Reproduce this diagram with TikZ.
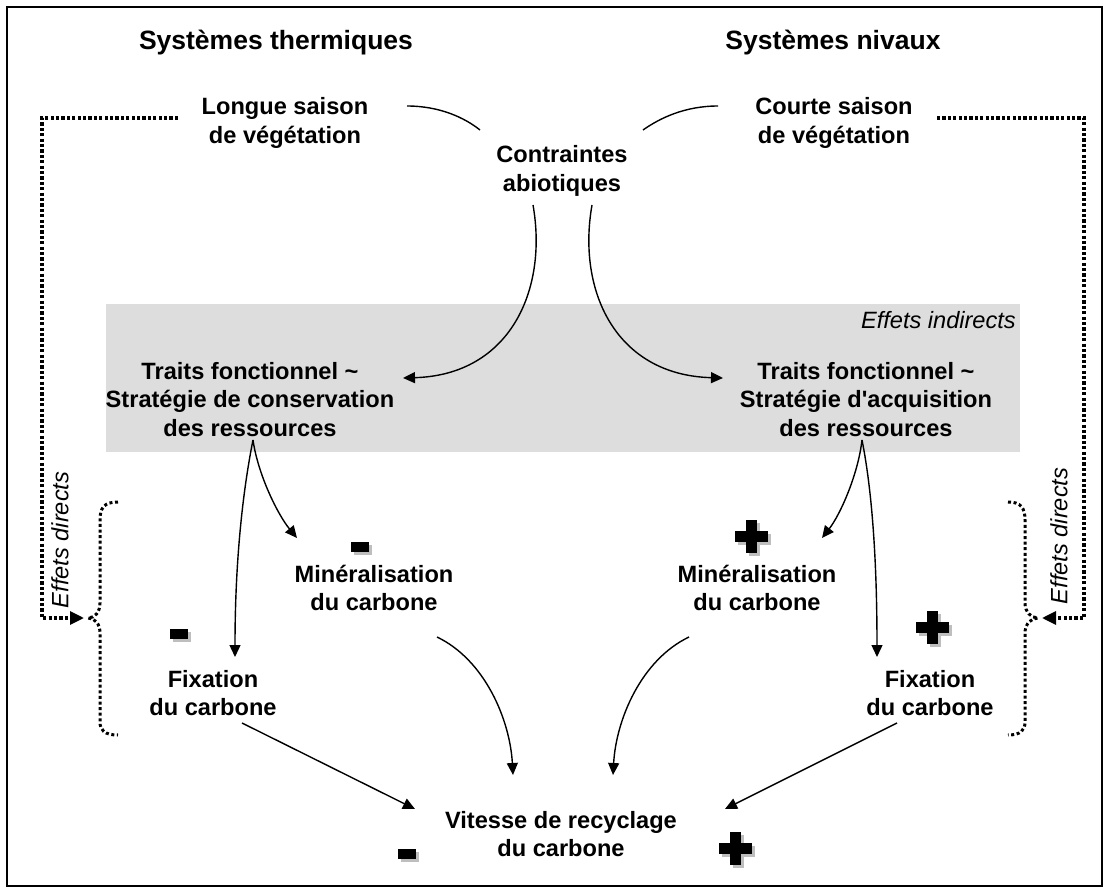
\documentclass[tikz,border=0pt]{standalone}
\usepackage{fontspec}
\setmainfont{Liberation Sans}[Ligatures=TeXOff]
\usetikzlibrary{arrows.meta}
\definecolor{boxgray}{RGB}{221,221,221}
\definecolor{shadowgray}{RGB}{190,190,190}
\begin{document}
\begin{tikzpicture}[x=1pt,y=-1pt,
  lbl/.style={font=\bfseries\fontsize{23.6}{28.5}\selectfont,align=center,inner sep=0pt},
  ttl/.style={font=\bfseries\fontsize{26.5}{32}\selectfont,inner sep=0pt,anchor=base},
  ital/.style={font=\itshape\fontsize{23.6}{28}\selectfont,inner sep=0pt},
  link/.style={line width=1.4pt},
  arr/.style={link,-{Triangle[length=12pt,width=11pt]}},
  dotline/.style={line width=3.2pt,dash pattern=on 3.2pt off 2.2pt,-{Triangle[length=14pt,width=13pt]}},
  dotbrace/.style={line width=3pt,dash pattern=on 3pt off 2.6pt},
  plussign/.pic={
    \fill[shadowgray] (-2.5,-13.5) rectangle (8.5,19.5);
    \fill[shadowgray] (-13.5,-2.5) rectangle (19.5,8.5);
    \fill[black] (-5.5,-16.5) rectangle (5.5,16.5);
    \fill[black] (-16.5,-5.5) rectangle (16.5,5.5);
  },
  minussign/.pic={
    \fill[shadowgray] (-6.5,-2.5) rectangle (11.5,7.5);
    \fill[black] (-9,-5) rectangle (9,5);
  }]
\useasboundingbox (0,0) rectangle (1109,893);
\fill[white] (0,0) rectangle (1109,893);
\fill[boxgray] (106,304) rectangle (1020,452);
\draw[line width=2pt] (7,7) rectangle (1102,886);

% titles and labels
\node[ttl] (tL) at (276,50) {Systèmes thermiques};
\node[ttl] (tR) at (833,50) {Systèmes nivaux};
\node[lbl] (longue) at (285,123) {Longue saison\\de végétation};
\node[lbl] (courte) at (834,123) {Courte saison\\de végétation};
\node[lbl] (contr) at (562,171) {Contraintes\\abiotiques};
\node[lbl] (trL) at (250,399.5) {Traits fonctionnel \textasciitilde\\Stratégie de conservation\\des ressources};
\node[lbl] (trR) at (866,399.5) {Traits fonctionnel \textasciitilde\\Stratégie d'acquisition\\des ressources};
\node[ital,anchor=base east] (indir) at (1016,329) {Effets indirects};
\node[lbl] (minL) at (374,588) {Minéralisation\\du carbone};
\node[lbl] (minR) at (757,588) {Minéralisation\\du carbone};
\node[lbl] (fixL) at (213,693) {Fixation\\du carbone};
\node[lbl] (fixR) at (930,693) {Fixation\\du carbone};
\node[lbl] (vit) at (561,834) {Vitesse de recyclage\\du carbone};
\node[ital,rotate=90] (dirL) at (60,540) {Effets directs};
\node[ital,rotate=90] (dirR) at (1059,536) {Effets directs};

% signs
\pic at (360,547) {minussign};
\pic at (179,634) {minussign};
\pic at (407,854) {minussign};
\pic at (751,536) {plussign};
\pic at (932,627) {plussign};
\pic at (735,848) {plussign};

% connectors
\draw[link] ([shift={(122,-17)}]longue.center) .. controls +(33,0) and +(-15,-12) .. ([shift={(-82,-41)}]contr.center);
\draw[link] ([shift={(-116,-17)}]courte.center) .. controls +(-33,0) and +(17,-12) .. ([shift={(81,-41)}]contr.center);
\draw[arr] ([shift={(-29,34)}]contr.center) .. controls +(15,85) and +(107,-3) .. ([shift={(153,-21.5)}]trL.center);
\draw[arr] ([shift={(30,34)}]contr.center) .. controls +(-15,85) and +(-108,-3) .. ([shift={(-143,-21.5)}]trR.center);
\draw[arr] ([shift={(3,40.5)}]trL.center) .. controls +(-10,50) and +(0,-97) .. ([shift={(22,-36)}]fixL.center);
\draw[arr] ([shift={(3,40.5)}]trL.center) .. controls +(5,35) and +(-19,-23) .. ([shift={(-77,-50)}]minL.center);
\draw[arr] ([shift={(-4,40.5)}]trR.center) .. controls +(10,50) and +(0,-97) .. ([shift={(-53,-36)}]fixR.center);
\draw[arr] ([shift={(-4,40.5)}]trR.center) .. controls +(-4,35) and +(18,-23) .. ([shift={(65,-50)}]minR.center);
\draw[arr] ([shift={(63,49)}]minL.center) .. controls +(48,23) and +(-3,-55) .. ([shift={(-48,-59)}]vit.center);
\draw[arr] ([shift={(-68,49)}]minR.center) .. controls +(-48,23) and +(3,-55) .. ([shift={(52,-59)}]vit.center);
\draw[arr] ([shift={(29,30)}]fixL.center) -- ([shift={(-146,-25)}]vit.center);
\draw[arr] ([shift={(-33,30)}]fixR.center) -- ([shift={(164,-25)}]vit.center);

% dotted direct-effect paths and braces
\coordinate (cornerL) at (42,618);
\coordinate (braceL) at (88,618);
\coordinate (cornerR) at (1084,618);
\coordinate (braceR) at (1038,618);
\draw[dotline] ([shift={(-107,-5)}]longue.center) -| (cornerL) -- ([xshift=-4pt]braceL);
\draw[dotline] ([shift={(103,-5)}]courte.center) -| (cornerR) -- ([xshift=4pt]braceR);
\draw[dotbrace] (118,502) .. controls (104,502) and (100,508) .. (100,520) -- (100,603)
  .. controls (100,612) and (95,618) .. (braceL)
  .. controls (95,618) and (100,624) .. (100,633) -- (100,722)
  .. controls (100,730) and (104,735) .. (118,735);
\draw[dotbrace] (1008,502) .. controls (1021,502) and (1025,508) .. (1025,520) -- (1025,603)
  .. controls (1025,612) and (1031,618) .. (braceR)
  .. controls (1031,618) and (1025,624) .. (1025,633) -- (1025,722)
  .. controls (1025,730) and (1021,735) .. (1008,735);
\end{tikzpicture}
\end{document}
